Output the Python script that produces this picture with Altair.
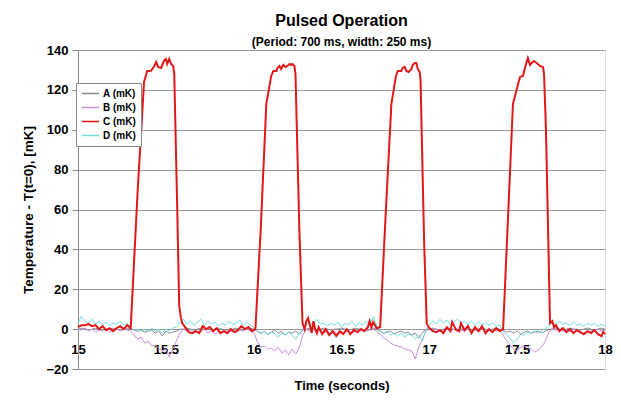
import altair as alt
import pandas as pd

# ---- data ----
grid_time = [round(15 + 0.02 * i, 2) for i in range(151)]

a_vals = [0, 0.5, 0, -0.5, 0, 0.5, 0, -0.5, 0, 0, 0.5, 0, -0.5, 0, 0.5, 0,
          -0.5, -1, -0.5, -1.5, -1, -0.5, -2, -1, -3.5, -1, -2, -1.5, -1, 0,
          0, 0.5, 0, -0.5, 0, 0.5, 0, 0, -0.5, 0, 0.5, 0, -0.5, 0, 0, 0.5, 0, -0.5, 0, 0.5, 0,
          -1, -2, -1, -2.5, -1.5, -0.5, -2, -1, -3, -1.5, -2, -1, -2.5, -0.5,
          0, 0.5, 0, -0.5, 0, 0.5, 0, -0.5, 0, 0, 0.5, 0, -0.5, 0, 0.5, 0, 0, -0.5, 0, 0.5, 0,
          -1, -2, -1.5, -1, -2.5, -1.5, -1, -2, -1.5, -3, -2, -4.5, -2, 0,
          0, 0.5, 0, -0.5, 0, 0.5, 0, 0, -0.5, 0, 0.5, 0, -0.5, 0, 0, 0.5, 0, -0.5, 0, 0.5, 0,
          -0.5, -1.5, -1, -2, -1, -2.5, -1.5, -1, -2, -1.5, -1, -2, -1, 0,
          0, 0.5, 0, -0.5, 0, 0.5, 0, 0, -0.5, 0, 0.5, 0, -0.5, 0, 0.5, 0]

b_vals = [0, -0.5, 0.5, -1, 0, -1.5, -0.5, -1, 0, -1.5, -0.5, 0, -1, 0, -0.5, -1,
          -3, -5, -4, -7, -6, -8.5, -8, -9.5, -11, -10, -14, -10, -6, -2,
          0, -1, -0.5, -2, -1, -1.5, 0, -2, -1, -2.5, -1, -2, -0.5, -1.5, -1, -2, -0.5, -1, 0, -1, -1.5,
          -6, -9, -8.5, -10, -9.5, -11, -9, -12, -10.5, -13, -10, -12.5, -9, -3,
          0, -1, 0, -1.5, -0.5, -2, -1, -2.5, -1, -3, -1.5, -2, -0.5, -2, -1, -1.5, 0, -1, -0.5, 0, -1,
          -2.5, -4.5, -5.5, -7, -8, -8.5, -9, -10, -10.5, -11, -15, -9, -5, -1,
          0, -0.5, 0, -1, -0.5, 0, -1, 0, -1.5, -0.5, -1, 0, -1.5, -0.5, -1, 0, -1, -0.5, 0, -1, -0.5,
          -3, -6, -8, -10, -11, -9, -8.5, -9, -10, -11.5, -10.5, -9, -6, -1.5,
          0, -0.5, 0, -1, -0.5, -1.5, 0, -1, -2, -3, -1.5, -1, -0.5, 0, -1, -0.5]

d_vals = [3, 6.5, 4, 3, 5, 2.5, 4, 2, 3.5, 2, 3, 2.5, 4, 2, 3, 0.5,
          -0.5, 0, -1, 0, -1.5, 0.5, -1, 0, -2, 0, -1, 0.5, 1, 3,
          5, 2.5, 4, 2, 3.5, 5, 2, 4, 2.5, 3.5, 1.5, 3, 2, 4, 2.5, 3, 4.5, 2, 3.5, 2, 1,
          -1, -2.5, -1, -3, -1.5, -2, -4, -2, -3, -1.5, -3, -5, -2, 0,
          2, 3.5, 2, 5, 2.5, 3, 1.5, 3, 2, 3.5, 1, 3, 2, 4, 1.5, 3, 2, 4, 2.5, 6, 2,
          -1, -2.5, -1, -3, -2, -3.5, -2, -4, -2.5, -3, -5, -3, -6, -1,
          2, 4, 2.5, 5, 3, 4.5, 2, 3.5, 5, 3, 4, 2.5, 4, 2, 3.5, 2, 3, 2, 3, 1.5, 2,
          -1, -3, -4.5, -7, -5, -2.5, -3, -1.5, -2, -1, -2, -0.5, 0, 1.5,
          3.5, 2, 4, 2.5, 3, 2, 3.5, 2, 2.5, 1.5, 3, 2, 3, 1.5, 2.5, 1.5]

c_time = [15.00, 15.02, 15.04, 15.06, 15.08, 15.10, 15.12, 15.14, 15.16, 15.18, 15.20, 15.22, 15.24, 15.26, 15.28, 15.30,
          15.34, 15.376, 15.394, 15.416, 15.434, 15.445, 15.456, 15.473, 15.49, 15.50, 15.508, 15.519, 15.53, 15.542, 15.548, 15.565, 15.576, 15.585, 15.593,
          15.61, 15.63, 15.65, 15.67, 15.69, 15.71, 15.73, 15.75, 15.77, 15.79, 15.81, 15.83, 15.85, 15.87, 15.89, 15.91, 15.93, 15.95, 15.97, 15.99, 16.01,
          16.04, 16.072, 16.10, 16.112, 16.13, 16.135, 16.147, 16.156, 16.169, 16.18, 16.192, 16.204, 16.213, 16.221, 16.232, 16.238, 16.26, 16.278,
          16.29, 16.30, 16.31, 16.32, 16.33, 16.34, 16.35, 16.36, 16.37, 16.39, 16.41, 16.43, 16.45, 16.47, 16.49, 16.51, 16.53, 16.55, 16.57, 16.59, 16.61, 16.63, 16.65, 16.66, 16.67, 16.68, 16.70, 16.72,
          16.75, 16.784, 16.81, 16.82, 16.84, 16.848, 16.86, 16.869, 16.882, 16.898, 16.905, 16.917, 16.926, 16.934, 16.945, 16.95, 16.97, 16.985,
          16.99, 17.00, 17.02, 17.04, 17.06, 17.08, 17.10, 17.12, 17.13, 17.15, 17.17, 17.18, 17.20, 17.22, 17.24, 17.26, 17.28, 17.30, 17.32, 17.34, 17.36, 17.38, 17.40, 17.42,
          17.45, 17.476, 17.516, 17.533, 17.544, 17.561, 17.573, 17.582, 17.596, 17.611, 17.63, 17.647, 17.653, 17.664, 17.687,
          17.70, 17.71, 17.72, 17.74, 17.76, 17.78, 17.80, 17.82, 17.84, 17.86, 17.88, 17.90, 17.92, 17.94, 17.96, 17.98, 17.99, 18.00]

c_vals = [1, 2, 2, 2.5, 1.5, 2, 0, 1.5, -0.5, 0.5, -1, 0.5, 1.5, 0, 2, 0.5,
          70, 124, 129.5, 129.6, 132, 134, 131.5, 131, 134.7, 135.5, 133, 135.5, 133, 132, 128, 60, 12, 6, 3,
          1, -1.5, -2, -1, -2, 1.5, 0, 1, -1, 0.5, -2, -1, -2, 0, -1.5, -0.5, 1.5, 0, 1, -1, 0,
          50, 113, 127, 129.5, 129.5, 131, 132, 130.5, 132.5, 131.5, 132, 133, 132.5, 133, 132, 128, 50, 3,
          0, 4, 5.5, 2, -2, 4, 0, -2, 1, -2.5, 0, -3, -1, -3.5, -1, -2.5, 0, -2.5, -0.5, -1.5, 0, -1, 1, 4, 1, 3.5, 0.5, 1,
          55, 113, 127, 129.5, 129.5, 131, 131.5, 129.5, 129, 130.5, 132.5, 133.5, 133.5, 130.5, 129, 125, 45, 3,
          2, 0.5, -1, -1.5, -0.5, -2, 1, -1, 3.5, 0, -1, 3, -0.5, 1.5, -2, 1, -1, 1.5, -2, 0, -1.5, 0.5, -1, 0,
          60, 113, 126.5, 127, 131, 136, 132.5, 133.5, 134.5, 133.5, 132, 131.5, 128, 100, 3,
          4, 1, 2, -1, 0.5, -1.5, 0, -2, -0.5, -1.5, -2.5, -1, -2, -0.5, -2.5, -3.5, -1.5, -2.5]

series_names = ["A (mK)", "B (mK)", "C (mK)", "D (mK)"]
series_colors = ["#8c8c96", "#c98ee0", "#e01818", "#70dede"]
y_ticks = [-20, 0, 20, 40, 60, 80, 100, 120, 140]
x_ticks = [15, 15.5, 16, 16.5, 17, 17.5, 18]

# ---- tables ----
rows = []
for name, vals in [("A (mK)", a_vals), ("B (mK)", b_vals), ("D (mK)", d_vals)]:
    for t, v in zip(grid_time, vals):
        rows.append({"t": t, "v": v, "series": name})
thin_df = pd.DataFrame(rows)
c_df = pd.DataFrame({"t": c_time, "v": c_vals, "series": "C (mK)"})

FONT = "Liberation Sans"

x_enc = alt.X("t:Q",
              scale=alt.Scale(domain=[15, 18], nice=False, zero=False),
              axis=alt.Axis(values=x_ticks, format="~g", title="Time (seconds)", offset=-40,
                            labelFlush=False, ticks=False, domain=False, grid=False,
                            labelPadding=14, labelFontSize=13, labelFontWeight="bold",
                            labelColor="black", titleFontSize=13, titleFontWeight="bold",
                            titlePadding=23, titleColor="black", labelFont=FONT, titleFont=FONT))
y_enc = alt.Y("v:Q",
              scale=alt.Scale(domain=[-20, 140], nice=False, zero=False),
              axis=alt.Axis(values=y_ticks, title="Temperature - T(t=0), [mK]",
                            grid=True, gridColor="#9a9a9a", gridWidth=1,
                            domainColor="#8a8a8a", tickColor="#8a8a8a", tickSize=6,
                            labelPadding=4, labelFontSize=13, labelFontWeight="bold",
                            labelColor="black", titleFontSize=13.5, titleFontWeight="bold",
                            titlePadding=10, titleColor="black", labelFont=FONT, titleFont=FONT))
color_enc = alt.Color("series:N",
                      scale=alt.Scale(domain=series_names, range=series_colors),
                      legend=alt.Legend(title=None, orient="none", legendX=-2, legendY=33,
                                        fillColor="white", strokeColor="#8a8a8a",
                                        padding=5, symbolType="stroke", symbolSize=300,
                                        symbolStrokeWidth=1.5, labelFontSize=10,
                                        labelFontWeight="bold", labelColor="black",
                                        labelFont=FONT, rowPadding=3, clipHeight=11,
                                        labelOffset=3))

thin = alt.Chart(thin_df).mark_line(strokeWidth=1).encode(
    x=x_enc, y=y_enc, color=color_enc, detail="series:N")
thick = alt.Chart(c_df).mark_line(strokeWidth=2).encode(
    x=x_enc, y=y_enc, color=color_enc)

chart = alt.layer(thin, thick).properties(
    width=527, height=319,
    title=alt.TitleParams(text="Pulsed Operation",
                          subtitle="(Period: 700 ms, width: 250 ms)",
                          font=FONT, fontSize=16, fontWeight="bold", color="black",
                          subtitleFont=FONT, subtitleFontSize=12, subtitleFontWeight="bold",
                          subtitleColor="black", anchor="middle", offset=-4, subtitlePadding=8),
    autosize=alt.AutoSizeParams(type="none"),
    padding={"left": 70, "top": 42, "right": 8, "bottom": 26},
).configure_view(stroke="#c0c0c0", strokeWidth=1).configure(background="white")

chart.save("out.html", embed_options={"renderer": "svg", "actions": False})
